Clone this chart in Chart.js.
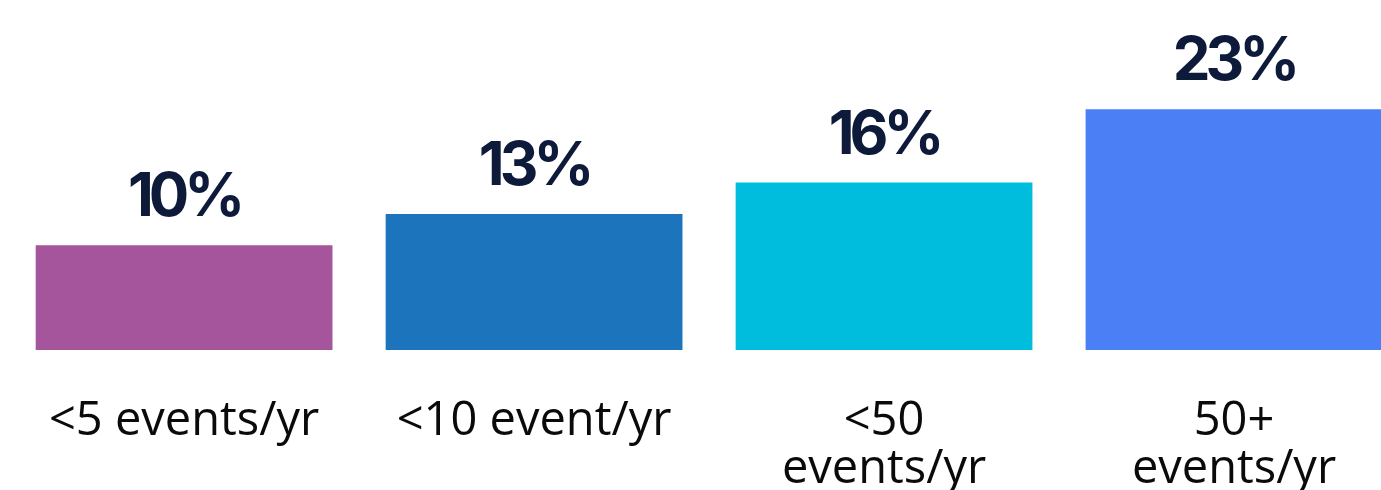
<!DOCTYPE html>
<html>
<head>
<meta charset="utf-8">
<script src="https://cdn.jsdelivr.net/npm/chart.js@4"></script>
<style>
  html, body { margin: 0; padding: 0; background: #fff; overflow: hidden; }
  #wrap { width: 1417px; height: 490px; }
</style>
</head>
<body>
<div id="wrap"><canvas id="chart"></canvas></div>
<script>
const categories = [["<5 events/yr"], ["<10 event/yr"], ["<50", "events/yr"], ["50+", "events/yr"]];
const shares = [10, 13, 16, 23];
const couleurs = ["#A5559B", "#1C75BC", "#00BCDD", "#4B7FF5"];

// pourcentages écrits au-dessus de chaque barre
const etiquettes = {
    id: "etiquettes",
    afterDatasetsDraw(chart) {
        const ctx = chart.ctx;
        const meta = chart.getDatasetMeta(0);
        ctx.save();
        ctx.fillStyle = "#0D1A3A";
        ctx.font = "700 60px Inter";
        ctx.letterSpacing = "-5px";
        ctx.textAlign = "center";
        ctx.textBaseline = "alphabetic";
        meta.data.forEach((bar, i) => {
            ctx.fillText(shares[i] + "%", bar.x, bar.y - 29);
        });
        ctx.restore();
    }
};

new Chart(document.getElementById("chart"), {
    type: "bar",
    data: {
        labels: categories,
        datasets: [{
            data: shares,
            backgroundColor: couleurs,
            barPercentage: 0.848,
            categoryPercentage: 1
        }]
    },
    options: {
        responsive: true,
        maintainAspectRatio: false,
        animation: false,
        layout: { padding: { left: 8, right: 8, top: 36, bottom: 0 } },
        plugins: {
            legend: { display: false },
            tooltip: { enabled: false }
        },
        scales: {
            x: {
                grid: { display: false, drawTicks: false },
                border: { display: false },
                ticks: {
                    color: "#0a0a0a",
                    padding: 48,
                    font: { family: "Open Sans", size: 47, lineHeight: 1.02 },
                    maxRotation: 0,
                    autoSkip: false
                },
                afterFit: (scale) => { scale.height = 140; }
            },
            y: {
                display: false,
                beginAtZero: true,
                max: 30
            }
        }
    },
    plugins: [etiquettes]
});
</script>
</body>
</html>
